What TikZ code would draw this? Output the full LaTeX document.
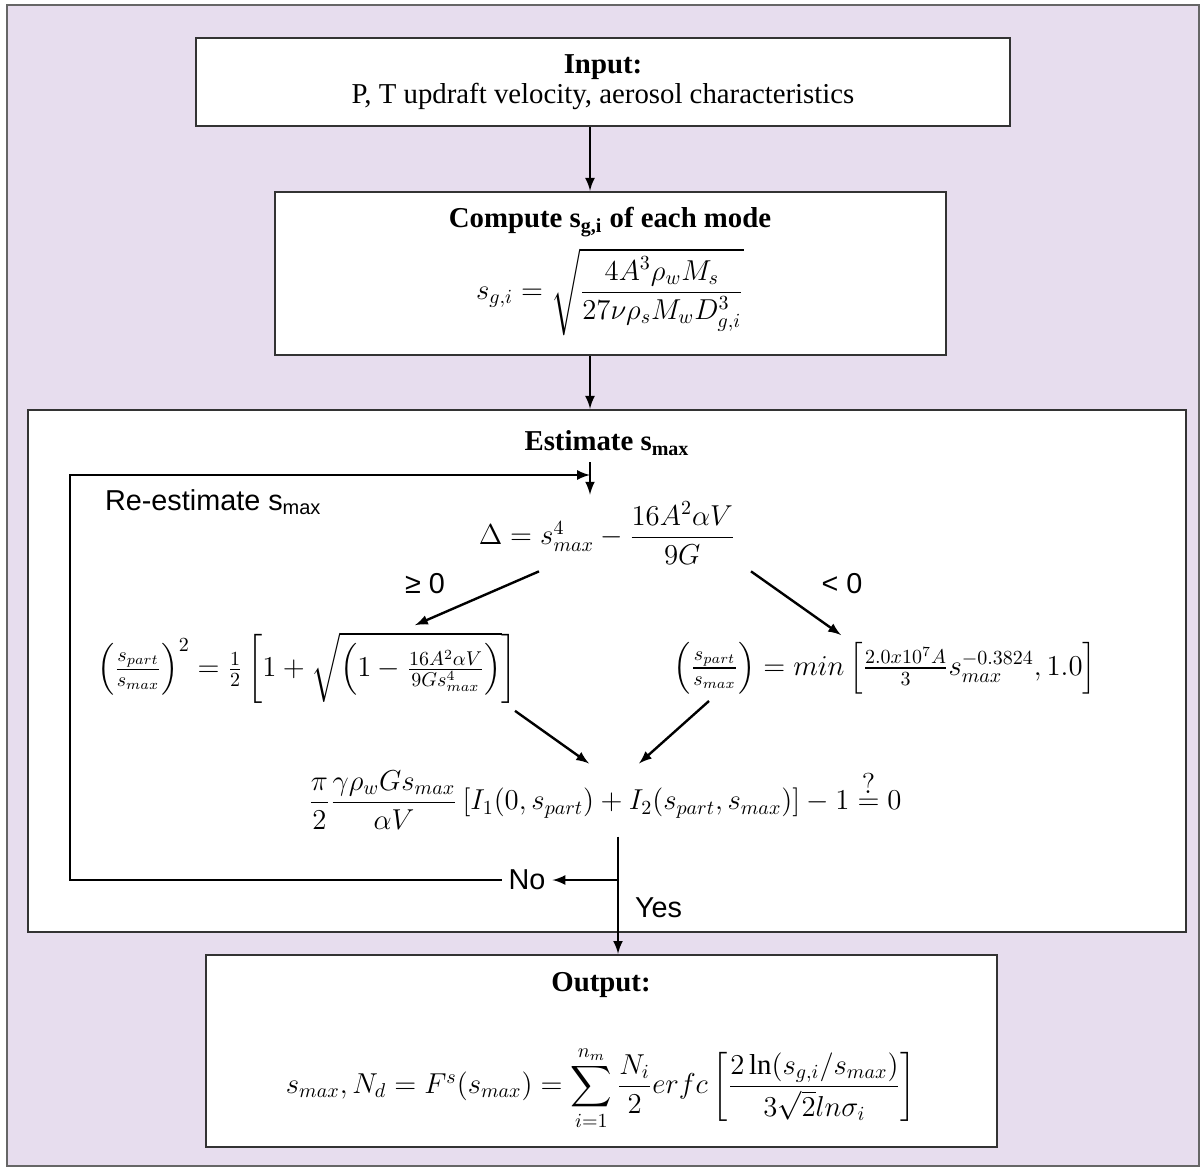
\documentclass[tikz,border=0pt]{standalone}
\usepackage{fontspec}
\setmainfont{Liberation Serif}
\setsansfont{Liberation Sans}
\usepackage{amsmath}
\definecolor{lavender}{RGB}{231,221,238}

\tikzset{
  box/.style={draw=black!80, line width=1.2pt, fill=white, inner sep=0pt},
  head/.style={font=\bfseries\Large},
  eqn/.style={font=\Large},
  lbl/.style={font=\sffamily\Large},
  flow/.style={-latex, line width=1.2pt},
}

\begin{document}
\begin{tikzpicture}[x=0.5pt,y=-0.5pt]
\useasboundingbox (0,0) rectangle (1204,1171);
\draw[fill=lavender, draw=black!60, line width=1pt] (7,5) rectangle (1199,1166);
% boxes
\node[box, minimum width=407pt, minimum height=44pt, align=center, font=\Large] (input) at (603,82)
  {\textbf{Input:}\\[-3pt] P, T updraft velocity, aerosol characteristics};
\node[box, minimum width=335.5pt, minimum height=81.5pt] (compute) at (610.5,273.5) {};
\node[box, minimum width=579pt, minimum height=261pt] (estimate) at (607,671) {};
\node[box, minimum width=395.5pt, minimum height=96pt] (output) at (601.5,1051) {};
\coordinate (axis) at (590,0);
\coordinate (entry) at (590,475);
\coordinate (loopleft) at (70,475);
\coordinate (split) at (618,880);
% texts
\node[head] (computehd) at (610,222) {Compute s\textsubscript{g,i} of each mode};
\node[eqn] (computeeq) at (610,292) {$s_{g,i} = \sqrt{\dfrac{4A^3\rho_w M_s}{27\nu\rho_s M_w D_{g,i}^3}}$};
\node[head] (estimatehd) at (607,443) {Estimate s\textsubscript{max}};
\node[lbl, anchor=west] (reest) at (98,502) {Re-estimate s\textsubscript{max}};
\node[eqn] (delta) at (607,533) {$\Delta = s_{max}^4 - \dfrac{16A^2\alpha V}{9G}$};
\node[lbl] (ge) at (425,584) {≥ 0};
\node[lbl] (lt) at (842,584) {< 0};
\node[eqn] (left) at (307,668) {$\left(\frac{s_{part}}{s_{max}}\right)^2 = \frac{1}{2}\left[1+\sqrt{\left(1-\frac{16A^2\alpha V}{9G s_{max}^4}\right)}\right]$};
\node[eqn] (right) at (885,668) {$\left(\frac{s_{part}}{s_{max}}\right) = min\left[\frac{2.0x10^7A}{3}s_{max}^{-0.3824}, 1.0\right]$};
\node[eqn] (check) at (605,800) {$\dfrac{\pi}{2}\dfrac{\gamma\rho_w G s_{max}}{\alpha V}\left[I_1(0,s_{part})+I_2(s_{part},s_{max})\right]-1 \overset{\textstyle ?}{=} 0$};
\node[lbl] (no) at (527,880) {No};
\node[lbl, anchor=west] (yes) at (628,908) {Yes};
\node[head] (outputhd) at (601,985) {Output:};
\node[eqn] (outputeq) at (601,1088) {$s_{max}, N_d = F^s(s_{max}) = \displaystyle\sum_{i=1}^{n_m}\frac{N_i}{2}erfc\left[\frac{2\ln(s_{g,i}/s_{max})}{3\sqrt{2}ln\sigma_i}\right]$};
% connectors
\draw[flow] (input.south -| axis) -- (compute.north -| axis);
\draw[flow] (compute.south -| axis) -- (estimate.north -| axis);
\draw[flow] (estimatehd.south -| entry) -- (delta.north -| entry);
\draw[flow] (no.west) -| (loopleft) -- (entry);
\draw[flow] ([xshift=-34pt]delta.south) -- ([xshift=54pt]left.north);
\draw[flow] ([xshift=72pt]delta.south) -- ([xshift=-22pt]right.north);
\draw[flow] ([xshift=104pt]left.south) -- ([xshift=-8pt]check.north);
\draw[flow] ([xshift=-88pt]right.south) -- ([xshift=17pt]check.north);
\draw[flow] (check.south -| split) -- (output.north -| split);
\draw[flow] (split) -- (no.east);
\end{tikzpicture}
\end{document}
